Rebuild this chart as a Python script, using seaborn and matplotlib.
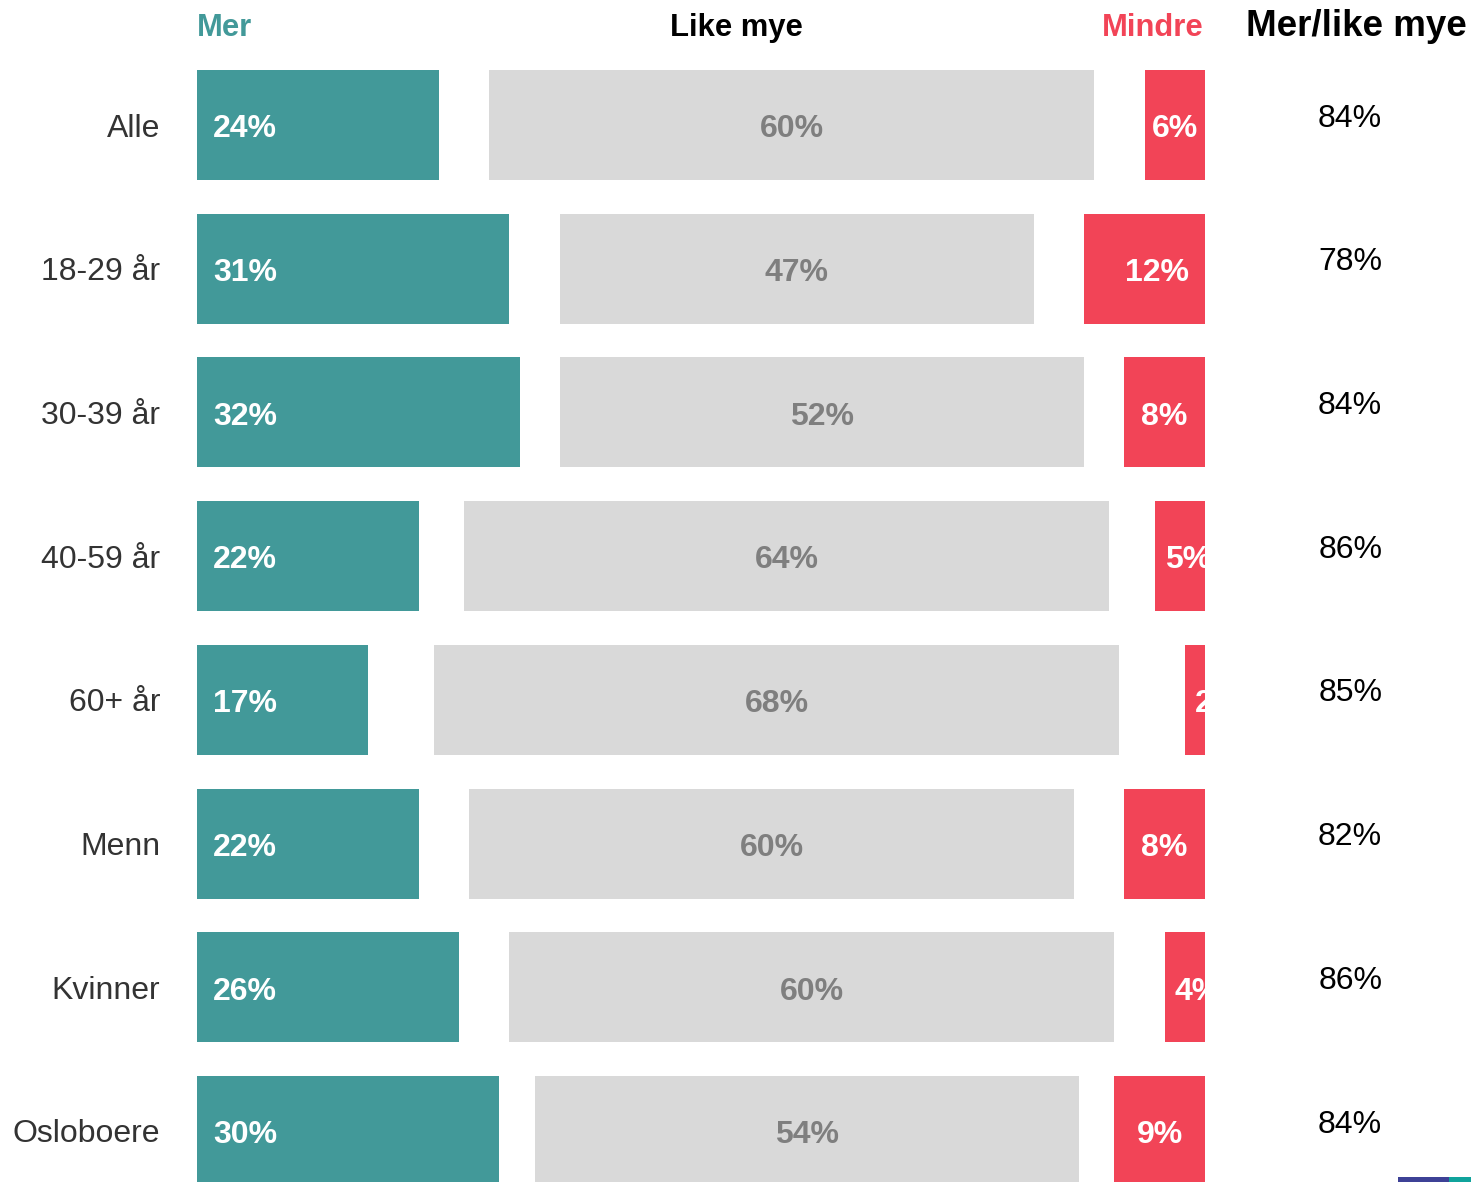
import numpy as np
import pandas as pd
import matplotlib
matplotlib.use("Agg")
import matplotlib.pyplot as plt
from matplotlib.patches import Rectangle
import seaborn as sns

categories = ["Alle", "18-29 år", "30-39 år", "40-59 år", "60+ år", "Menn", "Kvinner", "Osloboere"]
mer = [24, 31, 32, 22, 17, 22, 26, 30]
like_mye = [60, 47, 52, 64, 68, 60, 60, 54]
mindre = [6, 12, 8, 5, 2, 8, 4, 9]
mer_like_mye = [84, 78, 84, 86, 85, 82, 86, 84]

TEAL = "#429999"
GREY = "#D9D9D9"
RED = "#F24457"
GREY_TXT = "#7F7F7F"
CAT_TXT = "#333333"

sns.set_style("white")
plt.rcParams["font.family"] = ["Liberation Sans", "DejaVu Sans"]

df = pd.DataFrame({"gruppe": categories, "mer": mer, "like": like_mye, "mindre": mindre})
# the unanswered share is split evenly into the two gaps between segments
gap = (100 - df["mer"] - df["like"] - df["mindre"]) / 2
like_left = (df["mer"] + gap).to_numpy(dtype=float)
mindre_left = (100 - df["mindre"]).to_numpy(dtype=float)

W, H = 1471, 1182
fig = plt.figure(figsize=(W / 100, H / 100), dpi=100)
ax = fig.add_axes([197 / W, 0, 1008 / W, (H - 53.15) / H])

common = dict(y="gruppe", orient="h", order=categories, width=0.766,
              errorbar=None, saturation=1, linewidth=0, ax=ax)
sns.barplot(data=df, x="mer", color=TEAL, **common)
sns.barplot(data=df, x="like", left=like_left, color=GREY, **common)
sns.barplot(data=df, x="mindre", left=mindre_left, color=RED, **common)

ax.set_xlim(0, 100)
ax.set_ylim(7.355, -0.5)
ax.set_xlabel("")
ax.set_ylabel("")
ax.set_xticks([])
for s in ax.spines.values():
    s.set_visible(False)
ax.tick_params(axis="y", length=0, pad=26.6, labelsize=23, labelcolor=CAT_TXT)

lab = dict(fontsize=23, fontweight="bold", va="center")
for i in range(len(categories)):
    yl = i + 0.03
    ax.text(1.6, yl, f"{mer[i]}%", ha="left", color="white", **lab)
    ax.text(like_left[i] + like_mye[i] / 2, yl, f"{like_mye[i]}%", ha="center",
            color=GREY_TXT, **lab)
    if mindre[i] >= 10:
        ax.text(98.4, yl, f"{mindre[i]}%", ha="right", color="white",
                clip_on=True, **lab)
    elif mindre[i] >= 6:
        ax.text(mindre_left[i] + mindre[i] / 2, yl, f"{mindre[i]}%", ha="center",
                color="white", clip_on=True, **lab)
    else:
        ax.text(mindre_left[i] + 1, yl, f"{mindre[i]}%", ha="left",
                color="white", clip_on=True, **lab)
    ax.text(114.4, i - 0.045, f"{mer_like_mye[i]}%", ha="center", va="center",
            color="black", fontsize=23, clip_on=False)

base = 1 - 36 / H
fig.text(197 / W, base, "Mer", ha="left", va="baseline", color=TEAL,
         fontsize=22.3, fontweight="bold")
fig.text(736 / W, base, "Like mye", ha="center", va="baseline", color="black",
         fontsize=22.3, fontweight="bold")
fig.text(1203 / W, base, "Mindre", ha="right", va="baseline", color=RED,
         fontsize=22.3, fontweight="bold")
fig.text(1467 / W, base, "Mer/like mye", ha="right", va="baseline", color="black",
         fontsize=26.5, fontweight="bold")

fig.add_artist(Rectangle((1398 / W, 0), 51 / W, 5 / H, transform=fig.transFigure,
                         color="#3D4196", lw=0))
fig.add_artist(Rectangle((1449 / W, 0), 22 / W, 5 / H, transform=fig.transFigure,
                         color="#10A39C", lw=0))

fig.savefig("out.png", dpi=100)
